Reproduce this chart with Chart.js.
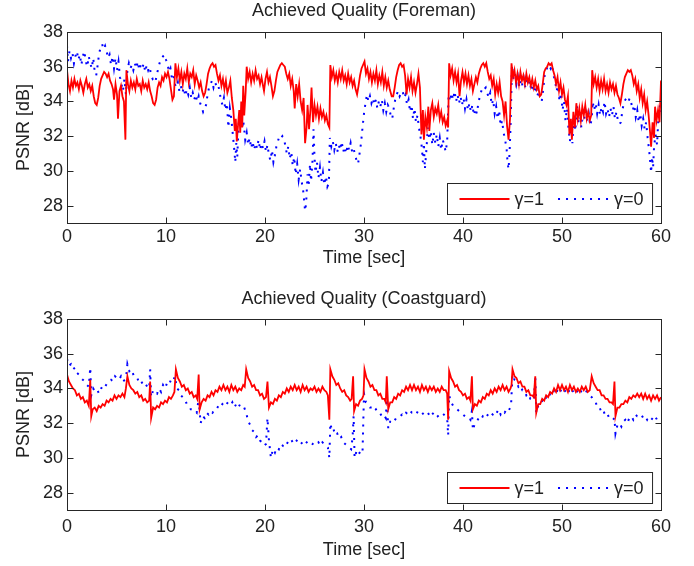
<!DOCTYPE html>
<html>
<head>
<meta charset="utf-8">
<script src="https://cdn.jsdelivr.net/npm/chart.js@4.4.1/dist/chart.umd.min.js"></script>
<style>
  html, body { margin: 0; padding: 0; background: #fff; }
  #wrap { position: relative; width: 694px; height: 566px; }
  canvas { position: absolute; left: 0; }
</style>
</head>
<body>
<div id="wrap">
  <canvas id="foremanChart" width="694" height="280" style="top:0;width:694px;height:280px"></canvas>
  <canvas id="coastChart" width="694" height="286" style="top:280px;width:694px;height:286px"></canvas>
</div>
<script>
// ---- data: [time sec, PSNR dB] ----
const timeTicks = [0, 10, 20, 30, 40, 50, 60];
const psnrTicks = [28, 30, 32, 34, 36, 38];
const seriesLabels = ['γ=1', 'γ=0'];
const chartTitles = ['Achieved Quality (Foreman)', 'Achieved Quality (Coastguard)'];

const foremanGamma1 = [
  [0.0,35.8],[0.15,35.0],[0.3,34.6],[0.45,35.2],[0.6,34.8],[0.75,35.3],[0.9,34.9],[1.05,35.1],[1.2,34.7],[1.35,35.2],
  [1.5,34.9],[1.65,34.5],[1.8,35.0],[1.95,35.3],[2.1,34.8],[2.25,35.0],[2.4,34.6],[2.55,34.9],[2.7,34.3],[2.85,33.9],
  [3.0,33.8],[3.15,34.2],[3.3,34.9],[3.45,35.3],[3.6,35.5],[3.75,35.7],[3.9,35.6],[4.05,35.4],[4.2,35.6],[4.35,35.2],
  [4.5,35.0],[4.65,34.7],[4.75,34.1],[4.9,35.0],[5.05,34.4],[5.15,33.0],[5.3,34.6],[5.45,34.9],[5.6,34.3],[5.75,34.0],
  [5.9,31.8],[6.0,35.8],[6.15,35.0],[6.3,34.6],[6.45,35.2],[6.6,34.8],[6.75,35.1],[6.9,34.7],[7.05,35.3],[7.2,34.9],
  [7.35,35.0],[7.5,34.6],[7.65,35.2],[7.8,34.8],[7.95,35.0],[8.1,34.7],[8.25,35.1],[8.4,34.6],[8.55,34.3],[8.7,33.9],
  [8.85,33.8],[9.0,34.1],[9.15,34.8],[9.3,35.1],[9.45,34.9],[9.6,35.4],[9.75,35.2],[9.9,35.6],[10.05,35.4],[10.2,35.7],
  [10.35,35.3],[10.5,34.7],[10.65,34.1],[10.8,34.3],[10.95,36.2],[11.1,35.4],[11.25,35.9],[11.4,35.2],[11.55,35.7],[11.7,35.0],
  [11.85,35.6],[12.0,35.3],[12.15,35.9],[12.3,35.1],[12.45,35.6],[12.6,35.4],[12.75,35.8],[12.9,35.0],[13.05,35.5],[13.2,35.2],
  [13.35,34.8],[13.5,35.1],[13.65,34.6],[13.8,34.3],[13.95,34.5],[14.1,35.0],[14.25,35.6],[14.4,35.9],[14.55,36.1],[14.7,36.2],
  [14.85,36.0],[15.0,36.1],[15.15,35.6],[15.3,35.2],[15.45,35.5],[15.6,34.9],[15.75,35.3],[15.9,34.7],[16.05,35.2],[16.2,34.5],
  [16.35,34.8],[16.5,35.2],[16.65,34.2],[16.8,33.5],[16.95,32.3],[17.05,33.0],[17.15,31.7],[17.3,32.8],[17.4,33.5],[17.5,32.2],
  [17.6,34.0],[17.7,32.5],[17.8,34.9],[17.9,33.2],[18.05,34.6],[18.15,36.0],[18.3,35.3],[18.45,35.7],[18.6,35.1],[18.75,35.6],
  [18.9,35.2],[19.05,35.8],[19.2,35.3],[19.35,35.5],[19.5,35.0],[19.65,35.4],[19.8,34.9],[19.9,34.6],[20.05,35.3],[20.2,35.7],
  [20.35,35.1],[20.5,35.4],[20.65,34.9],[20.8,34.3],[20.95,34.6],[21.1,35.2],[21.25,35.7],[21.4,35.9],[21.55,36.1],[21.7,36.2],
  [21.85,36.1],[22.0,36.0],[22.15,35.6],[22.3,35.3],[22.45,35.6],[22.6,34.9],[22.75,35.3],[22.9,34.6],[23.0,33.6],[23.15,35.0],
  [23.3,34.3],[23.45,35.0],[23.6,34.0],[23.75,33.5],[23.9,34.2],[24.05,31.6],[24.2,32.5],[24.3,33.8],[24.45,32.4],[24.6,33.6],
  [24.7,34.8],[24.85,32.8],[25.0,33.8],[25.15,33.2],[25.3,33.7],[25.45,33.0],[25.6,33.6],[25.75,33.1],[25.9,33.4],[26.05,32.9],
  [26.2,33.2],[26.35,32.7],[26.5,32.5],[26.6,36.1],[26.75,35.4],[26.9,35.8],[27.05,35.2],[27.2,35.6],[27.35,35.1],[27.5,35.7],
  [27.65,35.3],[27.8,35.8],[27.95,35.2],[28.1,35.5],[28.25,35.0],[28.4,35.6],[28.55,35.1],[28.7,35.4],[28.85,34.9],[29.0,35.2],
  [29.15,34.7],[29.3,34.4],[29.45,34.9],[29.6,35.5],[29.75,35.9],[29.9,36.1],[30.05,36.3],[30.2,35.6],[30.35,35.9],[30.5,35.3],
  [30.65,35.7],[30.8,35.1],[30.95,35.6],[31.1,35.2],[31.25,35.8],[31.4,35.0],[31.55,35.5],[31.7,35.1],[31.85,35.7],[32.0,34.9],
  [32.15,35.4],[32.3,34.8],[32.45,35.2],[32.6,34.7],[32.8,34.3],[32.95,34.3],[33.1,34.8],[33.25,35.4],[33.4,35.8],[33.55,36.1],
  [33.7,36.2],[33.85,36.0],[34.0,36.1],[34.15,35.5],[34.3,34.4],[34.45,35.3],[34.6,34.8],[34.75,35.4],[34.9,34.6],[35.05,35.1],
  [35.2,34.5],[35.35,35.0],[35.5,35.6],[35.65,34.8],[35.8,32.1],[35.95,33.5],[36.05,31.8],[36.2,33.1],[36.35,32.5],[36.5,33.7],
  [36.6,32.3],[36.75,33.5],[36.9,33.9],[37.05,33.1],[37.2,33.6],[37.35,33.3],[37.5,33.8],[37.65,33.0],[37.8,33.4],[37.95,32.8],
  [38.1,33.1],[38.25,32.6],[38.4,32.9],[38.5,32.5],[38.6,36.2],[38.75,35.5],[38.9,35.9],[39.05,35.2],[39.2,35.7],[39.35,35.1],
  [39.5,35.6],[39.65,34.3],[39.8,35.2],[39.95,35.7],[40.1,35.1],[40.25,35.6],[40.4,35.0],[40.55,35.5],[40.7,34.9],[40.85,35.3],
  [41.0,34.6],[41.15,35.0],[41.3,35.4],[41.45,35.1],[41.6,35.6],[41.75,35.9],[41.9,36.1],[42.05,36.2],[42.2,36.0],[42.35,36.2],
  [42.5,35.7],[42.65,35.3],[42.8,35.5],[42.95,34.9],[43.1,35.3],[43.25,34.4],[43.4,35.0],[43.55,34.5],[43.7,35.1],[43.85,34.3],
  [44.0,34.0],[44.15,33.2],[44.3,34.0],[44.45,32.6],[44.6,31.8],[44.75,33.0],[44.9,36.2],[45.05,35.4],[45.2,35.8],[45.35,35.1],
  [45.5,35.6],[45.65,35.0],[45.8,35.7],[45.95,35.2],[46.1,35.5],[46.25,35.0],[46.4,35.6],[46.55,35.1],[46.7,35.4],[46.85,34.9],
  [47.0,35.3],[47.15,34.8],[47.3,35.2],[47.45,34.7],[47.6,34.9],[47.75,34.3],[47.9,34.4],[48.05,35.0],[48.2,35.7],[48.35,35.9],
  [48.5,36.0],[48.65,36.2],[48.8,36.1],[48.95,36.2],[49.1,35.8],[49.25,35.5],[49.4,35.0],[49.55,35.4],[49.7,34.6],[49.85,35.1],
  [50.0,34.4],[50.15,34.8],[50.3,34.1],[50.45,33.8],[50.6,34.3],[50.75,32.1],[50.9,33.0],[51.0,31.8],[51.15,33.4],[51.3,32.5],
  [51.45,33.9],[51.6,33.0],[51.75,33.6],[51.9,32.9],[52.05,33.7],[52.2,33.2],[52.35,33.8],[52.5,33.0],[52.65,33.4],[52.8,32.9],
  [52.95,33.2],[53.05,35.8],[53.2,35.0],[53.35,35.4],[53.5,34.8],[53.65,35.3],[53.8,34.6],[53.95,35.2],[54.1,34.7],[54.25,35.3],
  [54.4,34.6],[54.55,35.0],[54.7,34.5],[54.85,35.1],[55.0,34.7],[55.15,35.0],[55.3,34.5],[55.45,34.9],[55.6,34.4],[55.75,34.2],
  [55.9,33.9],[56.05,34.4],[56.2,35.0],[56.35,35.4],[56.5,35.6],[56.65,35.8],[56.8,35.7],[56.95,35.8],[57.1,35.5],[57.25,35.0],
  [57.4,35.3],[57.55,34.6],[57.7,35.0],[57.85,34.2],[58.0,34.7],[58.15,33.9],[58.3,34.4],[58.45,33.5],[58.6,34.0],[58.75,33.2],
  [58.9,32.2],[59.0,31.4],[59.15,32.8],[59.3,31.9],[59.4,33.7],[59.55,32.9],[59.7,33.5],[59.85,32.8],[60.0,35.2]
];

const foremanGamma0 = [
  [0.0,37.2],[0.1,36.3],[0.25,36.9],[0.4,36.5],[0.55,36.8],[0.7,36.2],[0.85,36.6],[1.0,36.9],[1.15,36.4],[1.3,36.7],
  [1.45,36.1],[1.6,36.6],[1.75,36.9],[1.9,36.3],[2.05,36.0],[2.2,36.6],[2.35,36.2],[2.5,35.9],[2.65,36.5],[2.8,35.7],
  [2.95,35.5],[3.1,36.1],[3.25,36.8],[3.4,37.1],[3.55,37.3],[3.7,37.0],[3.85,37.2],[4.0,36.9],[4.15,36.5],[4.3,36.7],
  [4.45,36.1],[4.6,36.6],[4.75,35.9],[4.9,36.5],[5.05,35.8],[5.2,36.3],[5.35,35.4],[5.5,35.0],[5.65,34.6],[5.8,35.3],
  [5.95,34.4],[6.1,35.8],[6.25,36.2],[6.4,35.9],[6.55,36.1],[6.7,35.8],[6.85,36.2],[7.0,35.9],[7.15,36.3],[7.3,35.8],
  [7.45,36.1],[7.6,35.9],[7.75,36.2],[7.9,35.7],[8.05,36.1],[8.2,35.8],[8.35,36.0],[8.5,35.5],[8.65,35.3],[8.8,35.4],
  [8.95,35.2],[9.1,35.6],[9.25,36.0],[9.4,36.3],[9.55,36.5],[9.7,36.6],[9.85,36.7],[10.0,36.4],[10.15,36.2],[10.3,35.7],
  [10.45,35.9],[10.6,35.3],[10.75,35.5],[10.9,35.0],[11.05,34.8],[11.2,35.1],[11.35,34.6],[11.5,34.9],[11.65,34.5],[11.8,34.8],
  [11.95,34.3],[12.1,34.7],[12.25,34.4],[12.4,34.8],[12.55,34.2],[12.7,34.5],[12.85,34.1],[13.0,34.4],[13.15,34.0],[13.3,34.3],
  [13.45,33.9],[13.6,33.7],[13.75,33.4],[13.9,33.6],[14.05,33.8],[14.2,34.4],[14.35,34.8],[14.5,35.0],[14.65,35.2],[14.8,34.8],
  [14.95,35.1],[15.1,34.9],[15.25,35.0],[15.4,34.6],[15.55,34.1],[15.7,33.8],[15.85,34.2],[16.0,33.5],[16.15,33.9],[16.3,32.5],
  [16.45,33.6],[16.6,33.0],[16.75,32.1],[16.9,31.2],[17.0,30.5],[17.1,31.6],[17.2,30.8],[17.3,32.2],[17.4,33.3],[17.5,32.6],
  [17.6,33.0],[17.7,32.5],[17.8,32.9],[17.9,32.4],[18.0,31.8],[18.15,32.2],[18.3,31.5],[18.45,31.9],[18.6,31.3],[18.75,31.7],
  [18.9,31.2],[19.05,31.6],[19.2,31.3],[19.35,31.8],[19.5,31.2],[19.65,31.6],[19.8,31.3],[19.95,31.7],[20.1,31.1],[20.25,31.5],
  [20.4,30.9],[20.55,30.6],[20.7,31.2],[20.85,30.5],[21.0,30.9],[21.15,31.4],[21.3,31.7],[21.45,32.0],[21.6,31.9],[21.75,32.0],
  [21.9,31.8],[22.05,31.5],[22.2,31.0],[22.35,31.4],[22.5,30.7],[22.65,31.1],[22.8,30.3],[22.95,30.8],[23.1,29.8],[23.25,30.4],
  [23.4,29.5],[23.55,30.1],[23.7,29.4],[23.85,28.9],[23.95,28.3],[24.05,27.7],[24.15,28.1],[24.3,29.8],[24.4,29.1],[24.55,30.4],
  [24.65,29.4],[24.8,30.6],[24.9,32.4],[25.0,30.8],[25.1,29.9],[25.25,30.5],[25.4,29.6],[25.55,30.2],[25.7,29.4],[25.85,29.9],
  [26.0,29.2],[26.15,29.7],[26.3,29.1],[26.45,29.3],[26.55,31.9],[26.7,31.4],[26.85,31.7],[27.0,31.2],[27.15,31.6],[27.3,31.1],
  [27.45,31.5],[27.6,31.2],[27.75,31.7],[27.9,31.1],[28.05,31.4],[28.2,31.0],[28.35,31.5],[28.5,31.2],[28.65,31.6],[28.8,31.1],
  [28.95,31.3],[29.1,30.9],[29.25,30.6],[29.4,30.4],[29.55,31.0],[29.7,31.6],[29.85,32.5],[30.0,33.3],[30.15,33.9],[30.3,34.4],
  [30.45,34.0],[30.6,34.3],[30.75,33.9],[30.9,34.2],[31.05,33.8],[31.2,34.1],[31.35,33.6],[31.5,34.0],[31.65,33.7],[31.8,34.1],
  [31.95,33.5],[32.1,33.9],[32.25,33.4],[32.4,33.8],[32.55,33.6],[32.7,33.2],[32.85,33.0],[33.0,33.6],[33.15,34.1],[33.3,34.4],
  [33.45,34.6],[33.6,34.3],[33.75,34.5],[33.9,34.6],[34.05,34.2],[34.2,34.4],[34.35,33.8],[34.5,34.1],[34.65,33.4],[34.8,33.8],
  [34.95,33.0],[35.1,33.6],[35.25,32.8],[35.4,33.2],[35.55,32.5],[35.7,32.0],[35.85,31.3],[35.95,30.5],[36.05,31.6],[36.15,30.1],
  [36.3,31.2],[36.45,32.5],[36.6,31.8],[36.75,32.3],[36.9,31.5],[37.05,32.2],[37.2,31.6],[37.35,32.1],[37.5,31.4],[37.65,31.9],
  [37.8,31.2],[37.95,31.8],[38.1,31.5],[38.25,31.1],[38.4,31.7],[38.55,34.4],[38.7,34.0],[38.85,34.5],[39.0,34.1],[39.15,34.6],
  [39.3,34.0],[39.45,34.4],[39.6,33.9],[39.75,34.3],[39.9,33.8],[40.05,34.2],[40.2,33.6],[40.35,34.1],[40.5,33.5],[40.65,33.9],
  [40.8,33.4],[40.95,33.8],[41.1,33.2],[41.25,33.6],[41.4,33.3],[41.55,33.9],[41.7,34.3],[41.85,34.6],[42.0,34.8],[42.15,34.7],
  [42.3,34.8],[42.45,34.5],[42.6,34.2],[42.75,34.5],[42.9,33.8],[43.05,34.1],[43.2,33.3],[43.35,33.7],[43.5,33.0],[43.65,33.5],
  [43.8,32.6],[43.95,32.9],[44.1,32.2],[44.25,31.8],[44.4,31.3],[44.5,30.5],[44.6,30.1],[44.7,31.0],[44.8,32.5],[44.95,36.1],
  [45.1,35.3],[45.25,35.6],[45.4,35.0],[45.55,35.4],[45.7,34.8],[45.85,35.5],[46.0,34.9],[46.15,35.3],[46.3,34.8],[46.45,35.4],
  [46.6,34.9],[46.75,35.2],[46.9,34.6],[47.05,35.0],[47.2,34.5],[47.35,34.9],[47.5,34.3],[47.65,34.6],[47.8,34.2],[47.95,34.0],
  [48.1,34.7],[48.25,35.5],[48.4,35.8],[48.55,36.0],[48.7,36.1],[48.85,35.9],[49.0,36.1],[49.15,35.5],[49.3,35.2],[49.45,34.6],
  [49.6,34.9],[49.75,34.0],[49.9,34.5],[50.05,33.5],[50.2,34.0],[50.35,32.9],[50.5,33.6],[50.65,32.5],[50.8,31.7],[50.95,32.6],
  [51.05,31.6],[51.2,33.2],[51.35,32.3],[51.5,33.8],[51.65,32.8],[51.8,33.4],[51.95,32.5],[52.1,33.6],[52.25,33.0],[52.4,33.7],
  [52.55,32.9],[52.7,33.3],[52.85,32.6],[53.0,33.0],[53.1,34.0],[53.25,33.5],[53.4,33.9],[53.55,33.3],[53.7,33.8],[53.85,33.2],
  [54.0,33.7],[54.15,33.4],[54.3,34.0],[54.45,33.3],[54.6,33.6],[54.75,33.1],[54.9,33.6],[55.05,33.2],[55.2,33.7],[55.35,33.0],
  [55.5,33.4],[55.65,32.9],[55.8,32.7],[55.95,32.8],[56.1,33.5],[56.25,33.9],[56.4,34.1],[56.55,34.2],[56.7,34.0],[56.85,34.2],
  [57.0,33.9],[57.15,33.5],[57.3,33.8],[57.45,33.1],[57.6,33.5],[57.75,32.8],[57.9,33.3],[58.05,32.6],[58.2,33.0],[58.35,32.4],
  [58.5,32.8],[58.65,31.9],[58.8,31.2],[58.9,30.6],[59.0,29.9],[59.1,30.8],[59.2,30.2],[59.3,31.4],[59.45,32.1],[59.6,31.5],
  [59.75,33.2],[59.9,33.8],[60.0,33.4]
];

const coastguardGamma1 = [
  [0.0,34.8],[0.2,34.4],[0.4,34.2],[0.6,34.0],[0.8,33.9],[1.0,33.6],[1.2,33.7],[1.4,33.4],[1.6,33.5],[1.8,33.2],
  [2.0,33.3],[2.2,33.0],[2.35,34.5],[2.45,32.4],[2.6,32.8],[2.8,32.9],[3.0,32.7],[3.2,33.0],[3.4,32.9],[3.6,33.1],
  [3.8,33.0],[4.0,33.3],[4.2,33.2],[4.4,33.4],[4.6,33.3],[4.8,33.6],[5.0,33.4],[5.2,33.6],[5.4,33.5],[5.6,33.7],
  [5.8,33.5],[5.95,34.0],[6.1,34.7],[6.3,34.2],[6.5,34.0],[6.7,33.9],[6.9,33.7],[7.1,33.8],[7.3,33.5],[7.5,33.6],
  [7.7,33.3],[7.9,33.4],[8.1,33.2],[8.3,33.3],[8.4,34.4],[8.5,32.3],[8.7,32.9],[8.9,32.8],[9.1,33.0],[9.3,32.9],
  [9.5,33.2],[9.7,33.1],[9.9,33.3],[10.1,33.2],[10.3,33.5],[10.5,33.4],[10.7,33.6],[10.85,33.8],[11.0,35.1],[11.2,34.6],
  [11.4,34.4],[11.6,34.1],[11.8,34.2],[12.0,33.9],[12.2,34.0],[12.4,33.7],[12.6,33.8],[12.8,33.5],[13.0,33.6],[13.15,33.4],
  [13.3,34.8],[13.4,32.8],[13.6,33.2],[13.8,33.4],[14.0,33.3],[14.2,33.6],[14.4,33.5],[14.6,33.8],[14.8,33.6],[15.0,33.9],
  [15.2,33.8],[15.4,34.1],[15.6,33.9],[15.8,34.2],[16.0,33.9],[16.2,34.1],[16.4,33.8],[16.6,34.2],[16.8,33.9],[17.0,34.1],
  [17.2,33.8],[17.4,34.0],[17.6,33.9],[17.8,34.2],[17.95,34.1],[18.1,35.1],[18.3,34.6],[18.5,34.4],[18.7,34.1],[18.9,34.2],
  [19.1,33.9],[19.3,33.9],[19.5,33.6],[19.7,33.7],[19.9,33.4],[20.1,33.5],[20.25,34.4],[20.4,32.9],[20.6,33.2],[20.8,33.1],
  [21.0,33.4],[21.2,33.3],[21.4,33.6],[21.6,33.5],[21.8,33.8],[22.0,33.7],[22.2,34.0],[22.4,33.8],[22.6,34.1],[22.8,33.9],
  [23.0,34.2],[23.2,33.9],[23.4,34.1],[23.6,33.8],[23.8,34.2],[24.0,33.9],[24.2,34.1],[24.4,33.8],[24.6,34.0],[24.8,33.9],
  [25.0,34.1],[25.2,33.8],[25.4,34.0],[25.6,33.8],[25.8,34.1],[26.0,33.9],[26.2,33.8],[26.35,33.6],[26.5,32.2],[26.6,35.1],
  [26.8,34.7],[27.0,34.5],[27.2,34.2],[27.4,34.3],[27.6,34.0],[27.8,33.8],[28.0,33.9],[28.2,33.6],[28.4,33.5],[28.6,33.3],
  [28.75,33.4],[28.9,34.7],[29.0,32.7],[29.2,33.1],[29.4,33.0],[29.6,33.3],[29.8,33.4],[29.95,33.6],[30.05,35.1],[30.25,34.6],
  [30.45,34.4],[30.65,34.1],[30.85,34.2],[31.05,33.9],[31.25,33.9],[31.45,33.6],[31.65,33.7],[31.85,33.4],[32.05,33.4],[32.2,33.2],
  [32.3,34.7],[32.45,32.8],[32.65,33.2],[32.85,33.2],[33.05,33.5],[33.25,33.4],[33.45,33.7],[33.65,33.6],[33.85,33.9],[34.05,33.8],
  [34.25,34.1],[34.45,33.9],[34.65,34.2],[34.85,33.9],[35.05,34.2],[35.25,33.9],[35.45,34.1],[35.65,33.8],[35.85,34.2],[36.05,33.9],
  [36.25,34.1],[36.45,33.8],[36.65,34.1],[36.85,33.9],[37.05,34.1],[37.25,33.8],[37.45,34.0],[37.65,33.8],[37.85,34.1],[38.05,33.9],
  [38.25,33.9],[38.4,33.7],[38.5,32.2],[38.6,35.0],[38.8,34.6],[39.0,34.4],[39.2,34.1],[39.4,34.2],[39.6,33.9],[39.8,33.8],
  [40.0,33.6],[40.2,33.7],[40.4,33.4],[40.6,33.5],[40.75,33.3],[40.9,34.7],[41.0,32.8],[41.2,33.1],[41.4,33.0],[41.6,33.3],
  [41.8,33.2],[42.0,33.5],[42.2,33.4],[42.4,33.7],[42.6,33.6],[42.8,33.9],[43.0,33.7],[43.2,34.0],[43.4,33.8],[43.6,34.1],
  [43.8,33.9],[44.0,34.2],[44.2,33.9],[44.4,34.1],[44.6,33.8],[44.8,34.0],[44.9,34.2],[45.0,35.1],[45.2,34.7],[45.4,34.6],
  [45.6,34.3],[45.8,34.4],[46.0,34.1],[46.2,34.1],[46.4,33.8],[46.6,33.9],[46.8,33.6],[47.0,33.6],[47.15,33.5],[47.3,34.7],
  [47.4,32.6],[47.6,33.1],[47.8,33.1],[48.0,33.4],[48.2,33.3],[48.4,33.6],[48.6,33.5],[48.8,33.8],[49.0,33.7],[49.2,34.0],
  [49.4,33.8],[49.6,34.2],[49.8,33.9],[50.0,34.2],[50.2,33.9],[50.4,34.1],[50.6,33.8],[50.8,34.2],[51.0,33.9],[51.2,34.1],
  [51.4,33.8],[51.6,34.0],[51.8,33.8],[52.0,34.1],[52.2,33.9],[52.4,34.1],[52.6,33.8],[52.8,33.9],[53.0,34.7],[53.2,34.3],
  [53.4,34.1],[53.6,33.9],[53.8,33.9],[54.0,33.6],[54.2,33.6],[54.4,33.4],[54.6,33.4],[54.8,33.2],[55.0,33.2],[55.15,33.1],
  [55.3,34.4],[55.4,32.4],[55.6,32.9],[55.8,32.9],[56.0,33.1],[56.2,33.1],[56.4,33.3],[56.6,33.2],[56.8,33.5],[57.0,33.4],
  [57.2,33.6],[57.4,33.5],[57.6,33.7],[57.8,33.5],[58.0,33.7],[58.2,33.4],[58.4,33.7],[58.6,33.4],[58.8,33.6],[59.0,33.3],
  [59.2,33.6],[59.4,33.4],[59.6,33.6],[59.8,33.3],[60.0,33.5]
];

const coastguardGamma0 = [
  [0.0,35.7],[0.2,35.3],[0.4,35.4],[0.6,35.1],[0.8,35.2],[1.0,34.9],[1.2,34.8],[1.4,34.6],[1.6,34.5],[1.8,34.4],
  [2.0,34.2],[2.2,34.1],[2.35,35.2],[2.45,33.6],[2.65,34.0],[2.85,33.8],[3.05,33.9],[3.25,33.7],[3.45,34.0],[3.65,34.2],
  [3.85,34.1],[4.05,34.3],[4.25,34.4],[4.45,34.5],[4.65,34.4],[4.85,34.7],[5.05,34.6],[5.25,34.5],[5.45,34.7],[5.65,34.4],
  [5.85,34.5],[6.0,34.8],[6.1,35.4],[6.3,35.0],[6.5,35.1],[6.7,34.8],[6.9,34.6],[7.1,34.6],[7.3,34.3],[7.5,34.4],
  [7.7,34.2],[7.9,34.3],[8.1,34.1],[8.3,34.0],[8.4,35.1],[8.5,33.5],[8.7,33.9],[8.9,33.8],[9.1,33.7],[9.3,34.0],
  [9.5,33.8],[9.7,34.2],[9.9,34.0],[10.1,34.3],[10.3,34.2],[10.5,34.5],[10.7,34.4],[10.9,34.7],[11.1,34.0],[11.3,33.9],
  [11.5,33.6],[11.7,33.5],[11.9,33.4],[12.1,33.1],[12.3,33.0],[12.5,32.8],[12.7,32.8],[12.9,32.7],[13.1,32.6],[13.25,33.2],
  [13.35,33.0],[13.5,32.0],[13.7,32.4],[13.9,32.3],[14.1,32.6],[14.3,32.5],[14.5,32.7],[14.7,32.6],[14.9,32.8],[15.1,32.8],
  [15.3,33.0],[15.5,32.9],[15.7,33.1],[15.9,33.0],[16.1,33.2],[16.3,33.1],[16.5,33.0],[16.7,33.2],[16.9,32.9],[17.1,33.1],
  [17.3,32.9],[17.5,33.1],[17.7,33.0],[17.9,32.9],[18.1,32.6],[18.3,32.1],[18.5,31.9],[18.7,31.6],[18.9,31.5],[19.1,31.2],
  [19.3,31.3],[19.5,31.0],[19.7,30.9],[19.9,30.7],[20.1,30.8],[20.25,32.3],[20.4,31.0],[20.6,30.0],[20.8,30.5],[21.0,30.3],
  [21.2,30.6],[21.4,30.5],[21.6,30.8],[21.8,30.7],[22.0,30.9],[22.2,30.8],[22.4,31.0],[22.6,31.1],[22.8,30.9],[23.0,31.1],
  [23.2,31.0],[23.4,31.1],[23.6,30.9],[23.8,30.8],[24.0,31.0],[24.2,30.9],[24.4,30.8],[24.6,30.9],[24.8,30.8],[25.0,30.9],
  [25.2,30.8],[25.4,30.9],[25.6,30.7],[25.8,30.9],[26.0,30.8],[26.2,30.7],[26.35,30.6],[26.5,30.0],[26.6,32.0],[26.75,31.6],
  [26.9,31.7],[27.1,31.3],[27.3,31.4],[27.5,31.1],[27.7,31.2],[27.9,30.9],[28.1,30.8],[28.3,30.7],[28.5,30.6],[28.7,30.5],
  [28.85,31.2],[28.95,32.4],[29.05,30.0],[29.25,30.4],[29.45,30.2],[29.65,30.4],[29.85,30.3],[30.0,33.7],[30.2,33.2],[30.4,33.1],
  [30.6,32.9],[30.8,32.9],[31.0,32.7],[31.2,32.8],[31.4,32.6],[31.6,32.6],[31.8,32.4],[32.0,32.5],[32.2,32.3],[32.3,33.4],
  [32.45,31.7],[32.65,32.1],[32.85,32.2],[33.05,32.1],[33.25,32.3],[33.45,32.3],[33.65,32.4],[33.85,32.5],[34.05,32.4],[34.25,32.6],
  [34.45,32.5],[34.65,32.7],[34.85,32.6],[35.05,32.6],[35.25,32.5],[35.45,32.7],[35.65,32.6],[35.85,32.5],[36.05,32.6],[36.25,32.5],
  [36.45,32.6],[36.65,32.4],[36.85,32.6],[37.05,32.5],[37.25,32.6],[37.45,32.4],[37.65,32.5],[37.85,32.6],[38.05,32.5],[38.25,32.4],
  [38.4,32.3],[38.5,31.3],[38.6,33.6],[38.8,33.2],[39.0,33.0],[39.2,32.9],[39.4,32.8],[39.6,32.7],[39.8,32.6],[40.0,32.5],
  [40.2,32.4],[40.4,32.3],[40.6,32.3],[40.75,32.2],[40.9,32.7],[41.0,31.6],[41.2,32.0],[41.4,32.1],[41.6,32.3],[41.8,32.2],
  [42.0,32.4],[42.2,32.3],[42.4,32.5],[42.6,32.4],[42.8,32.6],[43.0,32.5],[43.2,32.7],[43.4,32.6],[43.6,32.8],[43.8,32.5],
  [44.0,32.7],[44.2,32.6],[44.4,32.8],[44.6,32.7],[44.85,33.0],[45.0,34.8],[45.2,34.5],[45.4,34.4],[45.6,34.1],[45.8,34.2],
  [46.0,33.9],[46.2,33.9],[46.4,33.6],[46.6,33.7],[46.8,33.4],[47.0,33.4],[47.15,33.3],[47.3,34.7],[47.4,32.6],[47.6,33.0],
  [47.8,33.0],[48.0,33.3],[48.2,33.2],[48.4,33.5],[48.6,33.4],[48.8,33.7],[49.0,33.6],[49.2,33.9],[49.4,33.7],[49.6,34.0],
  [49.8,33.8],[50.0,34.0],[50.2,33.8],[50.4,33.9],[50.6,33.7],[50.8,34.0],[51.0,33.8],[51.2,33.9],[51.4,33.7],[51.6,33.9],
  [51.8,33.7],[52.0,33.9],[52.2,33.8],[52.4,33.9],[52.6,33.7],[52.8,33.6],[53.0,33.5],[53.2,33.3],[53.4,33.2],[53.6,32.9],
  [53.8,32.9],[54.0,32.6],[54.2,32.7],[54.4,32.4],[54.6,32.5],[54.8,32.3],[55.0,32.3],[55.15,32.2],[55.3,32.3],[55.4,31.4],
  [55.6,31.9],[55.8,32.0],[56.0,31.8],[56.2,32.1],[56.4,32.2],[56.6,32.0],[56.8,32.3],[57.0,32.4],[57.2,32.2],[57.4,32.5],
  [57.6,32.4],[57.8,32.4],[58.0,32.5],[58.2,32.3],[58.4,32.4],[58.6,32.2],[58.8,32.4],[59.0,32.3],[59.2,32.2],[59.4,32.4],
  [59.6,32.2],[59.8,32.3],[60.0,32.2]
];

Chart.defaults.font.family = '"Liberation Sans", Arial, Helvetica, sans-serif';
Chart.defaults.font.size = 18;
Chart.defaults.color = '#222';

const axisColor = '#262626';

// matlab style box, inward ticks and legend inside the axes
const matlabFrame = {
  id: 'matlabFrame',
  afterDatasetsDraw(chart, args, opts) {
    const { ctx, chartArea: a, scales: { x, y } } = chart;
    const L = Math.round(a.left) + 0.5, R = Math.round(a.right) + 0.5;
    const T = Math.round(a.top) + 0.5, B = Math.round(a.bottom) + 0.5;
    ctx.save();
    ctx.strokeStyle = axisColor;
    ctx.lineWidth = 1;
    ctx.setLineDash([]);
    ctx.strokeRect(L, T, R - L, B - T);
    ctx.beginPath();
    x.ticks.forEach(t => {
      const px = Math.round(x.getPixelForValue(t.value)) + 0.5;
      ctx.moveTo(px, B); ctx.lineTo(px, B - 6);
      ctx.moveTo(px, T); ctx.lineTo(px, T + 6);
    });
    y.ticks.forEach(t => {
      const py = Math.round(y.getPixelForValue(t.value)) + 0.5;
      ctx.moveTo(L, py); ctx.lineTo(L + 6, py);
      ctx.moveTo(R, py); ctx.lineTo(R - 6, py);
    });
    ctx.stroke();

    // legend
    const ds = chart.data.datasets;
    ctx.font = '18px "Liberation Sans", Arial, sans-serif';
    const w1 = ctx.measureText(ds[0].label).width;
    const w2 = ctx.measureText(ds[1].label).width;
    const boxW = 12 + 50 + 5 + w1 + 14 + 50 + 6 + w2 + 9;
    const boxH = 31;
    const bx = Math.round(R - 9 - boxW) + 0.5;
    const by = Math.round(B - opts.legendGap - boxH) + 0.5;
    ctx.fillStyle = '#fff';
    ctx.fillRect(bx, by, boxW, boxH);
    ctx.strokeRect(bx, by, boxW, boxH);
    const cy = by + boxH / 2;
    let cx = bx + 12;
    [w1, w2].forEach((w, i) => {
      ctx.beginPath();
      ctx.strokeStyle = ds[i].borderColor;
      ctx.lineWidth = ds[i].borderWidth;
      ctx.setLineDash(ds[i].borderDash || []);
      ctx.moveTo(cx, cy); ctx.lineTo(cx + 50, cy);
      ctx.stroke();
      ctx.setLineDash([]);
      cx += 50 + (i === 0 ? 5 : 6);
      ctx.fillStyle = '#222';
      ctx.textBaseline = 'middle';
      ctx.textAlign = 'left';
      ctx.fillText(ds[i].label, cx, cy + 1);
      cx += w + 14;
    });
    ctx.restore();
  }
};

function qualityChart(id, title, g1, g0, geo) {
  return new Chart(document.getElementById(id), {
    type: 'line',
    data: {
      datasets: [
        { label: seriesLabels[0], data: g1.map(p => ({ x: p[0], y: p[1] })),
          borderColor: '#ff0000', borderWidth: 1.8, pointRadius: 0, tension: 0 },
        { label: seriesLabels[1], data: g0.map(p => ({ x: p[0], y: p[1] })),
          borderColor: '#0000ff', borderWidth: 2, borderDash: [2, 6], pointRadius: 0, tension: 0 }
      ]
    },
    options: {
      responsive: false,
      animation: false,
      events: [],
      layout: { padding: { left: 9.5, right: 33, top: 0, bottom: geo.padBottom } },
      plugins: {
        legend: { display: false },
        tooltip: { enabled: false },
        title: {
          display: true, text: title, fullSize: false, color: '#222',
          font: { size: 18, weight: 'normal' },
          padding: { top: geo.titleTop, bottom: geo.titleBottom }
        },
        matlabFrame: { legendGap: geo.legendGap }
      },
      scales: {
        x: {
          type: 'linear', min: 0, max: 60,
          grid: { display: false, drawTicks: false }, border: { display: false },
          afterBuildTicks: s => { s.ticks = timeTicks.map(v => ({ value: v })); },
          afterFit: s => { s.height = geo.xHeight; },
          ticks: { padding: geo.xTickPad, maxRotation: 0, autoSkip: false, color: '#222' },
          title: { display: true, text: 'Time [sec]', color: '#222', padding: { top: 0, bottom: 4 } }
        },
        y: {
          type: 'linear', min: 27, max: 38,
          grid: { display: false, drawTicks: false }, border: { display: false },
          afterBuildTicks: s => { s.ticks = psnrTicks.map(v => ({ value: v })); },
          afterFit: s => { s.width = 57.5; },
          ticks: { padding: 4, color: '#222' },
          title: { display: true, text: 'PSNR [dB]', color: '#222', padding: { top: 4, bottom: 4 } }
        }
      }
    },
    plugins: [matlabFrame]
  });
}

qualityChart('foremanChart', chartTitles[0], foremanGamma1, foremanGamma0,
  { titleTop: 0, titleBottom: 10.4, padBottom: 7.2, xHeight: 49.8, xTickPad: 3, legendGap: 10 });
qualityChart('coastChart', chartTitles[1], coastguardGamma1, coastguardGamma0,
  { titleTop: 8.5, titleBottom: 8.9, padBottom: 1.2, xHeight: 54.8, xTickPad: 6.2, legendGap: 8 });
</script>
</body>
</html>
